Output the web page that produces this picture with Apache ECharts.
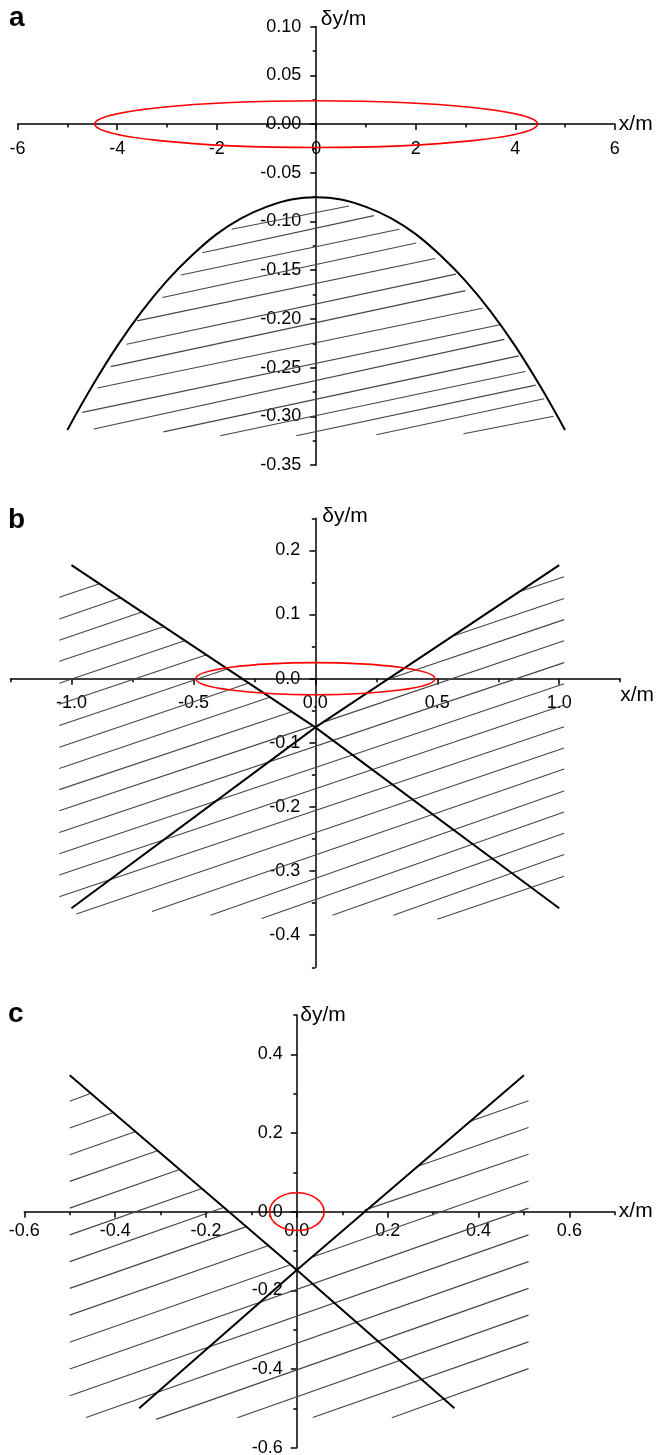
<!DOCTYPE html>
<html><head><meta charset="utf-8">
<script src="https://cdn.jsdelivr.net/npm/echarts@6/dist/echarts.min.js"></script>
<style>html,body{margin:0;padding:0;background:#fff}#c{width:658px;height:1455px}</style>
</head><body><div id="c"></div>
<script>
// ---------- panel a ----------
const aXTicks = [-6, -4, -2, 0, 2, 4, 6];
const aYTicks = [0.10, 0.05, 0.00, -0.05, -0.10, -0.15, -0.20, -0.25, -0.30, -0.35];
const aCurve = [[-5,-0.314],[-4.5,-0.269],[-4,-0.228],[-3.5,-0.192],[-3,-0.161],[-2.5,-0.135],[-2,-0.113],[-1.5,-0.0965],[-1,-0.085],[-0.5,-0.0774],[0,-0.075],[0.5,-0.0774],[1,-0.085],[1.5,-0.0965],[2,-0.113],[2.5,-0.135],[3,-0.161],[3.5,-0.192],[4,-0.228],[4.5,-0.269],[5,-0.314]];
const aEllipse = [[0, 0, 4.45, 0.024]];
const aHatch = [
  [-1.70,-0.108, 0.66,-0.084],[-2.29,-0.132, 1.16,-0.094],[-2.72,-0.155, 1.67,-0.108],
  [-3.09,-0.178, 2.01,-0.122],[-3.60,-0.202, 2.39,-0.138],[-3.81,-0.226, 2.81,-0.154],
  [-4.13,-0.249, 3.00,-0.171],[-4.40,-0.271, 3.34,-0.189],[-4.70,-0.296, 3.69,-0.206],
  [-4.47,-0.313, 3.78,-0.221],[-3.07,-0.316, 4.07,-0.238],[-1.93,-0.320, 4.20,-0.254],
  [-0.40,-0.320, 4.41,-0.268],[1.21,-0.319, 4.58,-0.282],[2.96,-0.318, 4.77,-0.300]
];
// ---------- panel b ----------
const bXTicks = [-1.0, -0.5, 0.0, 0.5, 1.0];
const bYTicks = [0.2, 0.1, 0.0, -0.1, -0.2, -0.3, -0.4];
const bLine1 = [[-1, 0.177], [0, -0.076], [1, -0.358]];
const bLine2 = [[-1, -0.358], [0, -0.076], [1, 0.177]];
const bEllipse = [[0, 0, 0.49, 0.025]];
const bHatch = [
  [-1.05,0.127,-0.885,0.148],[-1.05,0.093,-0.798,0.126],[-1.05,0.060,-0.711,0.104],
  [-1.05,0.027,-0.623,0.081],[-1.05,-0.007,-0.536,0.059],[-1.05,-0.040,-0.449,0.037],
  [-1.05,-0.073,-0.362,0.015],
  [-1.05,-0.107,-0.275,-0.007],[-1.05,-0.140,-0.187,-0.029],[-1.05,-0.173,-0.100,-0.052],
  [-1.05,-0.206,-0.013,-0.074],
  [0.833,0.135,1.02,0.159],[0.568,0.067,1.02,0.125],[0.304,0.000,1.02,0.092],[0.040,-0.067,1.02,0.059],
  [-1.05,-0.240,1.02,0.025],[-1.05,-0.273,1.02,-0.008],[-1.05,-0.306,1.02,-0.041],[-1.05,-0.340,1.02,-0.075],
  [-0.98,-0.367,1.02,-0.108],[-0.67,-0.363,1.02,-0.141],[-0.43,-0.369,1.02,-0.175],
  [-0.22,-0.374,1.02,-0.208],[0.07,-0.369,1.02,-0.241],[0.32,-0.369,1.02,-0.274],[0.50,-0.375,1.02,-0.308]
];
// ---------- panel c ----------
const cXTicks = [-0.6, -0.4, -0.2, 0.0, 0.2, 0.4, 0.6];
const cYTicks = [0.4, 0.2, 0.0, -0.2, -0.4, -0.6];
const cLine1 = [[-0.5, 0.347], [0, -0.148], [0.347, -0.5]];
const cLine2 = [[-0.347, -0.5], [0, -0.148], [0.5, 0.347]];
const cEllipse = [[0, 0, 0.06, 0.048]];
const cHatch = [
  [-0.50,0.281,-0.453,0.301],[-0.50,0.213,-0.404,0.252],[-0.50,0.145,-0.355,0.204],
  [-0.50,0.077,-0.307,0.155],[-0.50,0.009,-0.258,0.107],[-0.50,-0.059,-0.209,0.059],
  [-0.50,-0.127,-0.160,0.011],[-0.50,-0.195,-0.111,-0.038],[-0.50,-0.263,-0.062,-0.086],[-0.50,-0.332,-0.014,-0.135],
  [0.382,0.230,0.51,0.282],[0.265,0.115,0.51,0.214],[0.149,0.004,0.51,0.146],[0.033,-0.116,0.51,0.078],
  [-0.50,-0.400,0.51,0.009],[-0.50,-0.468,0.51,-0.059],
  [-0.464,-0.523,0.51,-0.127],[-0.310,-0.528,0.51,-0.195],[-0.131,-0.524,0.51,-0.263],
  [0.035,-0.523,0.51,-0.331],[0.209,-0.524,0.51,-0.399]
];

const FONT = '"Liberation Sans", Arial, Helvetica, sans-serif';
const LABEL_SIZE = 18, NAME_SIZE = 21;
const panels = [
  { grid:{left:17.6, top:26.7, width:597.2, height:438.3},
    x:{min:-6, max:6, step:1, ticks:aXTicks, fmt:v=>String(Math.round(v)), margin:15.5,
       nameGap:4, nameStyle:{verticalAlign:'middle'}},
    y:{min:-0.35, max:0.10, step:0.025, ticks:aYTicks, fmt:v=>v.toFixed(2), margin:15,
       nameGap:7, pad:4.5},
    hatch:aHatch, lines:[aCurve], smooth:true, ellipse:aEllipse },
  { grid:{left:10.5, top:518.3, width:609.7, height:449},
    x:{min:-1.25, max:1.25, step:0.25, ticks:bXTicks, fmt:v=>v.toFixed(1), margin:15,
       nameGap:0, nameStyle:{verticalAlign:'top', lineHeight:21, padding:[6,0,0,0]}},
    y:{min:-0.45, max:0.25, step:0.05, ticks:bYTicks, fmt:v=>v.toFixed(1), margin:15,
       nameGap:2, pad:7},
    hatch:bHatch, lines:[bLine1,bLine2], smooth:false, ellipse:bEllipse },
  { grid:{left:24.3, top:1015, width:590.5, height:432.7},
    x:{min:-0.6, max:0.7, step:0.1, ticks:cXTicks, fmt:v=>v.toFixed(1), margin:10,
       nameGap:4, nameStyle:{verticalAlign:'middle', padding:[12,0,0,0]}},
    y:{min:-0.6, max:0.5, step:0.1, ticks:cYTicks, fmt:v=>v.toFixed(1), margin:14,
       nameGap:0, pad:3.5},
    hatch:cHatch, lines:[cLine1,cLine2], smooth:false, ellipse:cEllipse }
];

const AX = {color:'#000', width:1.5};
const grids = [], xAxes = [], yAxes = [], series = [];
panels.forEach((p, i) => {
  grids.push(Object.assign({containLabel:false, outerBoundsMode:'none'}, p.grid));
  // move each axis onto the other axis' zero line (layout only)
  const xOff = -p.grid.height * (0 - p.y.min) / (p.y.max - p.y.min);
  const yOff = -p.grid.width * (0 - p.x.min) / (p.x.max - p.x.min);
  xAxes.push({
    gridIndex:i, type:'value', position:'bottom', offset:xOff, min:p.x.min, max:p.x.max, interval:p.x.step,
    axisLine:{show:true, onZero:false, lineStyle:AX},
    axisTick:{show:true, customValues:p.x.ticks, length:6, lineStyle:AX},
    axisLabel:{customValues:p.x.ticks, formatter:p.x.fmt, margin:p.x.margin, fontSize:LABEL_SIZE, color:'#000', fontFamily:FONT, showMinLabel:true, showMaxLabel:true},
    splitLine:{show:false},
    name:'x/m', nameLocation:'end', nameGap:p.x.nameGap,
    nameTextStyle:Object.assign({fontSize:NAME_SIZE, color:'#000', fontFamily:FONT, align:'left'}, p.x.nameStyle)
  });
  xAxes.push({
    gridIndex:i, type:'value', position:'bottom', offset:xOff, min:p.x.min, max:p.x.max, interval:p.x.step,
    axisLine:{show:false, onZero:false}, axisTick:{show:true, length:3.5, lineStyle:AX},
    axisLabel:{show:false}, splitLine:{show:false}
  });
  yAxes.push({
    gridIndex:i, type:'value', position:'left', offset:yOff, min:p.y.min, max:p.y.max, interval:p.y.step,
    axisLine:{show:true, onZero:false, lineStyle:AX},
    axisTick:{show:true, customValues:p.y.ticks, length:6, lineStyle:AX},
    axisLabel:{customValues:p.y.ticks, formatter:p.y.fmt, margin:p.y.margin, fontSize:LABEL_SIZE, color:'#000', fontFamily:FONT, showMinLabel:true, showMaxLabel:true},
    splitLine:{show:false},
    name:'δy/m', nameLocation:'end', nameGap:p.y.nameGap,
    nameTextStyle:{fontSize:NAME_SIZE, color:'#000', fontFamily:FONT, align:'left', verticalAlign:'middle', padding:[0,0,0,p.y.pad]}
  });
  yAxes.push({
    gridIndex:i, type:'value', position:'left', offset:yOff, min:p.y.min, max:p.y.max, interval:p.y.step,
    axisLine:{show:false, onZero:false}, axisTick:{show:true, length:3.5, lineStyle:AX},
    axisLabel:{show:false}, splitLine:{show:false}
  });
  const xi = 2*i, yi = 2*i;
  series.push({
    type:'custom', xAxisIndex:xi, yAxisIndex:yi, data:p.hatch, silent:true, z:1,
    encode:{x:[0,2], y:[1,3]},
    renderItem:(params, api) => {
      const a = api.coord([api.value(0), api.value(1)]);
      const b = api.coord([api.value(2), api.value(3)]);
      return {type:'line', shape:{x1:a[0], y1:a[1], x2:b[0], y2:b[1]}, style:{stroke:'#454545', lineWidth:1.1}};
    }
  });
  p.lines.forEach(d => series.push({
    type:'line', xAxisIndex:xi, yAxisIndex:yi, data:d, symbol:'none', showSymbol:false,
    smooth:p.smooth ? 0.4 : false, silent:true, z:3, lineStyle:{color:'#000', width:2}
  }));
  series.push({
    type:'custom', xAxisIndex:xi, yAxisIndex:yi, data:p.ellipse, silent:true, z:4,
    encode:{x:0, y:1},
    renderItem:(params, api) => {
      const c = api.coord([api.value(0), api.value(1)]);
      const s = api.size([api.value(2), api.value(3)]);
      return {type:'ellipse', shape:{cx:c[0], cy:c[1], rx:s[0], ry:s[1]}, style:{fill:'none', stroke:'#ff0000', lineWidth:1.6}};
    }
  });
});

const chart = echarts.init(document.getElementById('c'), null, {renderer:'canvas'});
chart.setOption({
  animation:false, backgroundColor:'#fff',
  grid:grids, xAxis:xAxes, yAxis:yAxes, series:series,
  graphic:[
    {type:'text', x:9, y:18, style:{text:'a', font:'bold 28px ' + FONT, fill:'#000', align:'left', verticalAlign:'middle'}},
    {type:'text', x:8, y:520, style:{text:'b', font:'bold 28px ' + FONT, fill:'#000', align:'left', verticalAlign:'middle'}},
    {type:'text', x:8, y:1014, style:{text:'c', font:'bold 28px ' + FONT, fill:'#000', align:'left', verticalAlign:'middle'}}
  ]
});
</script></body></html>
